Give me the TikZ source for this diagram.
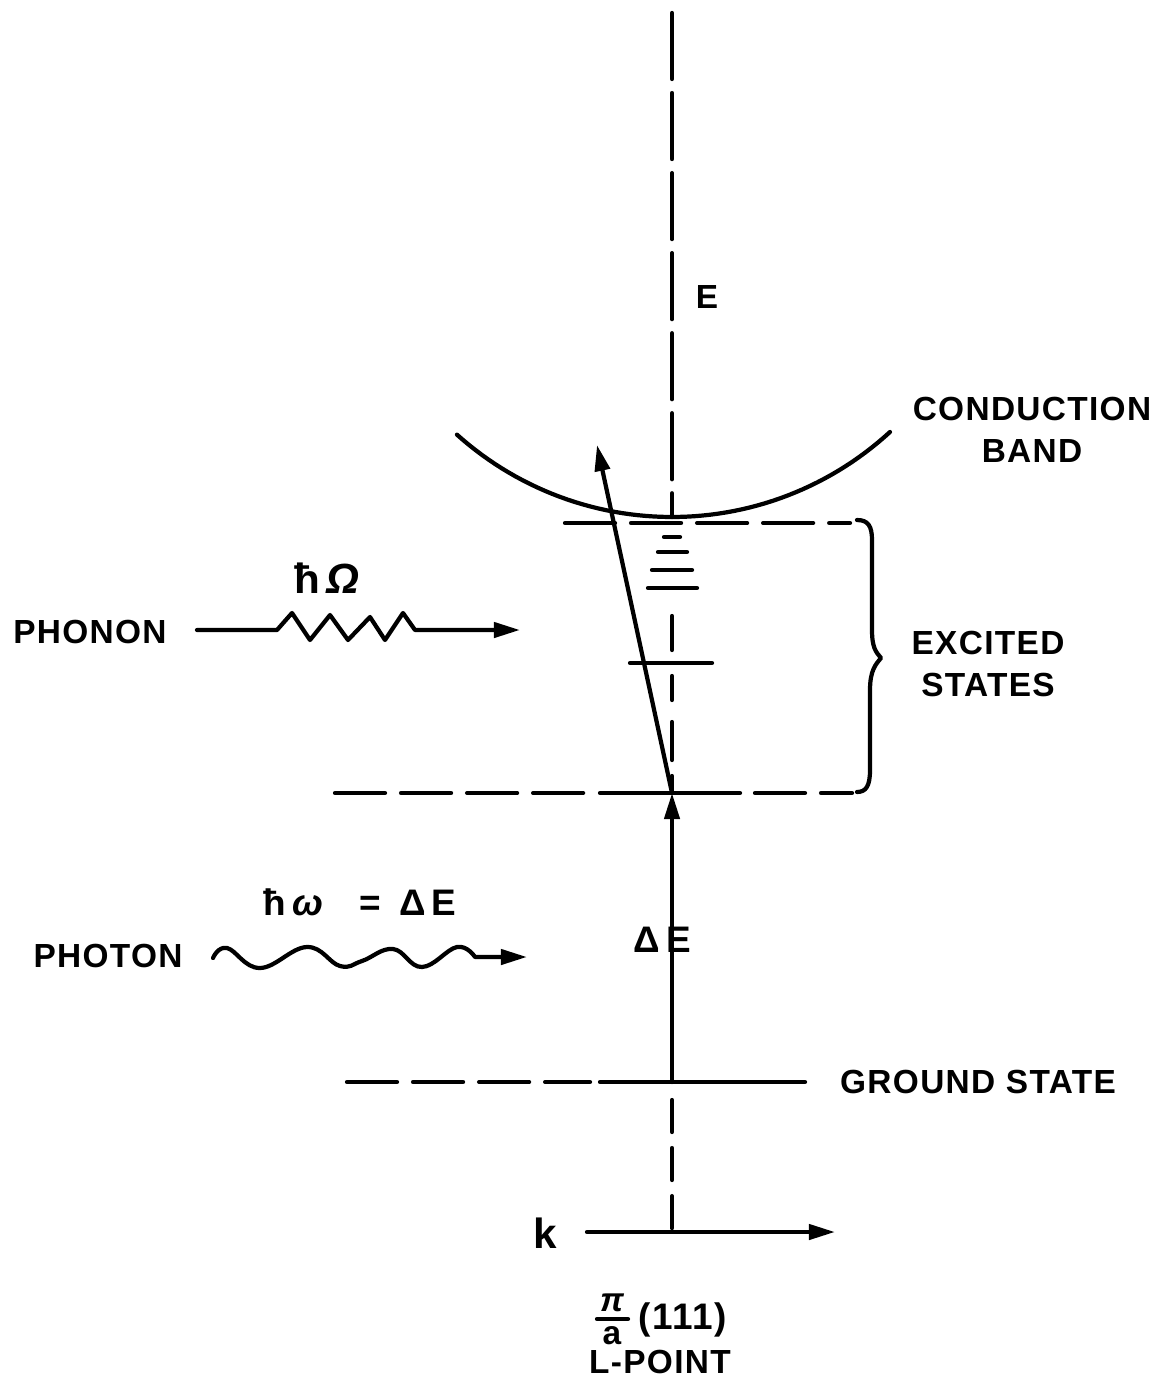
\documentclass[tikz,border=0pt]{standalone}
\usepackage{fontspec}
\setmainfont{Liberation Sans}[LetterSpace=4]
\usetikzlibrary{arrows.meta}
\begin{document}
\begin{tikzpicture}[x=0.01cm,y=-0.01cm,
  ln/.style={line width=1.2pt, line cap=round, line join=round},
  longdash/.style={ln, dash pattern=on 0.66cm off 0.14cm},
  hdash/.style={ln, dash pattern=on 0.5cm off 0.16cm},
  shortdash/.style={ln, dash pattern=on 0.32cm off 0.16cm},
  tip/.style={-{Triangle[length=0.26cm,width=0.15cm]}},
  lbl/.style={font=\fontsize{9.5}{12}\selectfont\bfseries, inner sep=0pt},
  midlbl/.style={font=\fontsize{10.5}{12}\selectfont\bfseries, inner sep=0pt},
  biglbl/.style={font=\fontsize{12}{14}\selectfont\bfseries, inner sep=0pt}]
\useasboundingbox (0,0) rectangle (1157,1379);
% key points
\coordinate (atop) at (672,13);
\coordinate (cb) at (672,517);
\coordinate (ex0) at (672,522);
\coordinate (ex1) at (672,793);
\coordinate (gs) at (672,1082);
\coordinate (kax) at (672,1232);
\coordinate (tiltend) at (597,445);
% vertical E axis (dashed)
\draw[longdash] (atop) -- (cb);
\draw[ln] (672,616) -- (672,650);
\draw[ln] (672,676) -- (672,700);
\draw[ln] (672,722) -- (672,760);
\draw[ln] (672,776) -- (ex1);
\draw[shortdash] (672,1100) -- (kax);
% conduction band
\draw[ln] plot[domain=-41.9:42.6, samples=60] ({672+322*sin(\x)}, {195+322*cos(\x)});
% excited state dashed top line
\coordinate (bt) at (857,520);
\draw[hdash] (565,523) -- (850,523);
% levels
\draw[ln] (664,537) -- (680,537);
\draw[ln] (658,552) -- (687,552);
\draw[ln] (652,570) -- (692,570);
\draw[ln] (648,588) -- (697,588);
\draw[ln] (630,663) -- (712,663);
% lower excited dashed line
\draw[hdash] (335,793) -- (590,793);
\draw[ln] (600,793) -- (740,793);
\draw[hdash] (755,793) -- (852,793);
% brace
\coordinate (bb) at (857,792);
\draw[ln] (bt) .. controls (868,520) and (872,526) .. (872,540)
  -- (872,630) .. controls (872,648) and (876,652) .. (881,658)
  .. controls (876,664) and (870,670) .. (870,690)
  -- (870,770) .. controls (870,786) and (866,792) .. (bb);
% ground state
\draw[hdash] (347,1082) -- (590,1082);
\draw[ln] (600,1082) -- (805,1082);
% Delta E arrow
\draw[ln,tip] (gs) -- (ex1);
% tilted arrow
\draw[ln,tip] (ex1) -- (tiltend);
% k axis
\coordinate (k0) at (587,1232);
\coordinate (k1) at (835,1232);
\draw[ln,tip] (k0) -- (k1);
% phonon
\coordinate (ph0) at (197,630);
\coordinate (ph1) at (520,630);
\draw[ln,tip] (ph0) -- (277,630) -- (292,613) -- (310,640) -- (330,615) -- (348,640)
  -- (370,617) -- (385,640) -- (403,613) -- (415,630) -- (ph1);
% photon
\coordinate (pt0) at (213,958);
\coordinate (pt1) at (527,957);
\draw[ln,tip] plot[smooth, tension=0.7] coordinates {(pt0) (227,948) (260,968) (307,947) (340,966) (362,961) (393,949) (422,967) (457,947) (475,957)} -- (pt1);
% labels
\node[lbl] (lE) at (707,297) {E};
\node[lbl, align=center] (lcb) at (1032,430) {CONDUCTION\\BAND};
\node[lbl, align=center] (lex) at (988,664) {EXCITED\\STATES};
\node[biglbl] (lhO) at (327,578) {ħ\,{\itshape Ω}};
\node[lbl] (lph) at (90,632) {PHONON};
\node[midlbl] (lhw) at (360,902) {ħ\,{\itshape ω}\quad = \,Δ\,E};
\node[lbl] (lpt) at (108,956) {PHOTON};
\node[midlbl] (ldE) at (662,940) {Δ\,E};
\node[lbl] (lgs) at (978,1082) {GROUND STATE};
\node[biglbl] (lk) at (545,1233) {k};
\node[lbl] (lpi) at (612,1303) {\itshape π};
\draw[ln] (597,1319) -- (628,1319);
\node[lbl] (la) at (612,1336) {a};
\node[midlbl] (l111) at (683,1320) {(111)};
\node[lbl] (llp) at (660,1362) {L-POINT};
\end{tikzpicture}
\end{document}
